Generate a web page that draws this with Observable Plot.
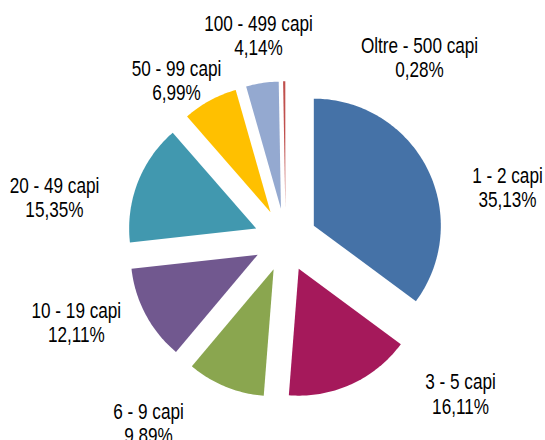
<!DOCTYPE html>
<html>
<head>
<meta charset="utf-8">
<script src="https://cdn.jsdelivr.net/npm/d3@7"></script>
<script src="https://cdn.jsdelivr.net/npm/@observablehq/plot@0.6"></script>
<style>
  html, body { margin: 0; padding: 0; background: #fff; }
  #chart svg { display: block; }
</style>
</head>
<body>
<div id="chart"></div>
<script>
// ---- data ----
const categories = ["1 - 2 capi", "3 - 5 capi", "6 - 9 capi", "10 - 19 capi", "20 - 49 capi", "50 - 99 capi", "100 - 499 capi", "Oltre - 500 capi"];
const shares = [35.13, 16.11, 9.89, 12.11, 15.35, 6.99, 4.14, 0.28];
const colors = ["#4572A7", "#A5195B", "#8AA64F", "#71588F", "#4198AF", "#FFC000", "#94A9D0", "#C0504D"];

// ---- layout (pixels) ----
const W = 545, H = 440;
const cx = 285.1, cy = 239.4, radius = 127, explode = 31.6, labelR = 200;
const labelShift = [[43.3, 37.4], [91.9, -28], [-61.3, -1.5], [-32.9, -12], [-44.8, 29.9], [-13.7, 16.4], [2.3, -6.6], [135.7, 17.3]];
const condense = 0.78;

const arcs = d3.pie().sort(null).value(d => d)(shares);
const dir = a => [Math.sin(a), -Math.cos(a)];

const polys = [];
const labels = [];
arcs.forEach((a, i) => {
  const mid = (a.startAngle + a.endAngle) / 2;
  const [mx, my] = dir(mid);
  const ax = cx + explode * mx, ay = cy + explode * my;
  const cat = categories[i];
  polys.push({cat, x: ax, y: ay});
  const n = Math.max(2, Math.ceil((a.endAngle - a.startAngle) * 180 / Math.PI));
  for (let k = 0; k <= n; k++) {
    const t = a.startAngle + (a.endAngle - a.startAngle) * k / n;
    const [dx, dy] = dir(t);
    polys.push({cat, x: ax + radius * dx, y: ay + radius * dy});
  }
  polys.push({cat, x: ax, y: ay});
  labels.push({
    cat,
    x: cx + labelR * mx + labelShift[i][0],
    y: cy + labelR * my + labelShift[i][1],
    text: `${cat}\n${shares[i].toFixed(2).replace(".", ",")}%`
  });
});

const chart = Plot.plot({
  width: W,
  height: H,
  margin: 0,
  x: {domain: [0, W], range: [0, W], axis: null},
  y: {domain: [0, H], range: [0, H], axis: null},
  color: {domain: categories, range: colors},
  style: {background: "#fff"},
  marks: [
    Plot.line(polys, {x: "x", y: "y", z: "cat", fill: "cat", stroke: "none", curve: "linear"}),
    Plot.text(labels, {
      x: "x", y: "y", text: "text",
      fontSize: 22, lineHeight: 1.1, lineAnchor: "middle", textAnchor: "middle",
      fontFamily: "'Liberation Sans', Arial, sans-serif",
      fill: "#000"
    })
  ]
});
// condense label glyphs horizontally (narrow face not installed)
chart.querySelectorAll('g[aria-label="text"] text').forEach(t => {
  const tr = t.getAttribute("transform") || "";
  t.setAttribute("transform", tr + ` scale(${condense},1)`);
});
document.getElementById("chart").appendChild(chart);
</script>
</body>
</html>
